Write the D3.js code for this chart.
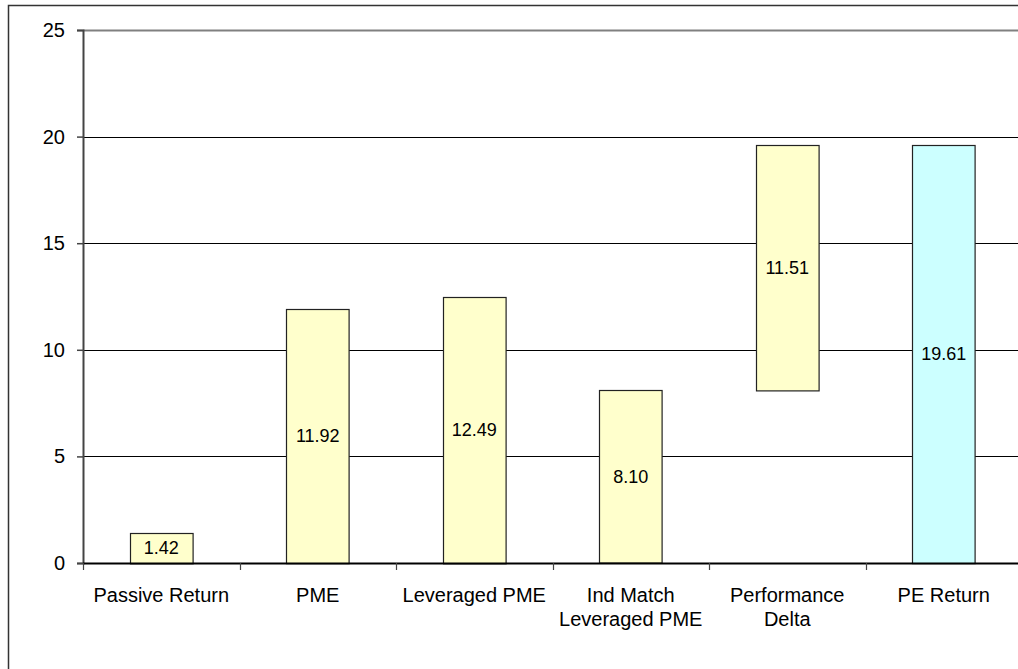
<!DOCTYPE html>
<html>
<head>
<meta charset="utf-8">
<script src="https://cdn.jsdelivr.net/npm/d3@7"></script>
<style>
  html, body { margin: 0; padding: 0; background: #fff; }
  svg { display: block; font-family: "Liberation Sans", Arial, sans-serif; }
</style>
</head>
<body>
<svg id="chart" width="1018" height="669"></svg>
<script>
// ---- data ----
const categories = [
  ["Passive Return"],
  ["PME"],
  ["Leveraged PME"],
  ["Ind Match", "Leveraged PME"],
  ["Performance", "Delta"],
  ["PE Return"]
];
const baseValues = [0, 0, 0, 0, 8.10, 0];
const barValues = [1.42, 11.92, 12.49, 8.10, 11.51, 19.61];
const barKinds = ["step", "step", "step", "step", "step", "total"];
const yTicks = [0, 5, 10, 15, 20, 25];

// ---- layout ----
const svg = d3.select("#chart");
const mLeft = 83, mRight = 1022, mTop = 30, mBottom = 563;

const keys = categories.map(c => c.join(" "));
const x = d3.scaleBand().domain(keys).range([mLeft, mRight]).paddingInner(0.6).paddingOuter(0.3);
const step = x.step();
const y = d3.scaleLinear().domain([0, 25]).range([mBottom, mTop]);

// outer frame
svg.append("rect")
  .attr("x", 8.5).attr("y", 5.5)
  .attr("width", 1030).attr("height", 690)
  .attr("fill", "#fff").attr("stroke", "#333").attr("stroke-width", 1.5);

// gridlines
svg.append("g").selectAll("line")
  .data(yTicks.filter(t => t > 0))
  .join("line")
  .attr("x1", mLeft).attr("x2", mRight)
  .attr("y1", d => Math.round(y(d)) + 0.5).attr("y2", d => Math.round(y(d)) + 0.5)
  .attr("stroke", d => d === 25 ? "#808080" : "#000")
  .attr("stroke-width", d => d === 25 ? 2 : 1.2);

// bars
const data = keys.map((k, i) => ({ key: k, base: baseValues[i], value: barValues[i], kind: barKinds[i] }));
svg.append("g").selectAll("rect")
  .data(data)
  .join("rect")
  .attr("x", d => Math.round(x(d.key)) + 0.5)
  .attr("width", x.bandwidth())
  .attr("y", d => Math.round(y(d.base + d.value)) + 0.5)
  .attr("height", d => y(d.base) - y(d.base + d.value))
  .attr("fill", d => d.kind === "total" ? "#CCFFFF" : "#FFFFCC")
  .attr("stroke", "#222").attr("stroke-width", 1.2);

// bar labels
svg.append("g").selectAll("text")
  .data(data)
  .join("text")
  .attr("x", d => x(d.key) + x.bandwidth() / 2)
  .attr("y", d => (y(d.base) + y(d.base + d.value)) / 2)
  .attr("dy", "0.35em")
  .attr("text-anchor", "middle")
  .attr("font-size", 18)
  .attr("fill", "#000")
  .text(d => d.value.toFixed(2));

// y axis
const yAxis = d3.axisLeft(y).tickValues(yTicks).tickSize(6).tickPadding(12).tickFormat(d3.format("d"));
const gy = svg.append("g").attr("transform", `translate(${mLeft},0)`).call(yAxis);
gy.select(".domain").attr("stroke", "#444").attr("stroke-width", 2);
gy.selectAll(".tick line").attr("stroke", "#444").attr("stroke-width", 1.5);
gy.selectAll(".tick text").attr("font-size", 20).attr("font-family", "Liberation Sans, Arial, sans-serif").attr("fill", "#000");

// x axis line
svg.append("line")
  .attr("x1", mLeft).attr("x2", mRight)
  .attr("y1", mBottom + 0.5).attr("y2", mBottom + 0.5)
  .attr("stroke", "#000").attr("stroke-width", 2);

// x category boundary ticks
const boundaries = d3.range(keys.length + 1).map(i => mLeft + i * step);
svg.append("g").selectAll("line")
  .data(boundaries)
  .join("line")
  .attr("x1", d => Math.round(d) + 0.5).attr("x2", d => Math.round(d) + 0.5)
  .attr("y1", mBottom).attr("y2", mBottom + 7)
  .attr("stroke", "#444").attr("stroke-width", 1.2);

// x category labels
const lbl = svg.append("g").selectAll("text")
  .data(categories)
  .join("text")
  .attr("text-anchor", "middle")
  .attr("font-size", 20)
  .attr("fill", "#000");
lbl.each(function(lines, i) {
  const cx = x(keys[i]) + x.bandwidth() / 2;
  d3.select(this).selectAll("tspan")
    .data(lines)
    .join("tspan")
    .attr("x", cx)
    .attr("y", (d, j) => mBottom + 39 + j * 24)
    .text(d => d);
});
</script>
</body>
</html>
